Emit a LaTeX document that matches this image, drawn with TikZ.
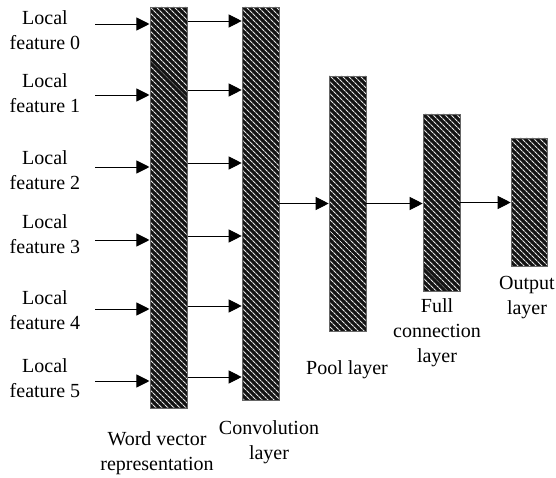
\documentclass[tikz,border=0pt]{standalone}
\usepackage{fontspec}
\setmainfont{Liberation Serif}
\usetikzlibrary{patterns.meta,arrows.meta}

\tikzset{
  layer/.style={draw=black!60, line width=0.6pt, minimum width=37pt, inner sep=0pt,
    preaction={fill=black!92},
    pattern={Lines[angle=-45,distance=4pt,line width=1.05pt]}, pattern color=white!90!black},
  arr/.style={line width=0.9pt, -{Triangle[length=13pt,width=13pt]}},
  lbl/.style={align=center, font=\rmfamily\fontsize{20}{25}\selectfont, inner sep=0pt}
}

\begin{document}
\begin{tikzpicture}[x=1pt,y=-1pt]
	\useasboundingbox (0,0) rectangle (556,478);
	% layers
	\node[layer, minimum height=401pt] (wv) at (168.5,207.5) {};
	\node[layer, minimum height=393pt] (cv) at (260.5,203.5) {};
	\node[layer, minimum height=255pt] (pl) at (347.5,203.5) {};
	\node[layer, minimum height=177pt] (fc) at (441.5,202.5) {};
	\node[layer, minimum height=128pt, minimum width=36pt] (ol) at (529,202) {};
	% local features
	\foreach \i/\ly/\ay in {0/30/24, 1/93/95, 2/170/167, 3/234/240, 4/310/309, 5/378/381}{
		\node[lbl] (lf\i) at (45,\ly) {Local\\feature \i};
		\coordinate (in\i) at (95,\ay);
		\draw[arr] (in\i) -- (wv.west |- in\i);
	}
	% word vectors into convolution
	\foreach \i/\y in {0/21, 1/90, 2/163, 3/236, 4/306, 5/377}{
		\coordinate (h\i) at (187,\y);
		\draw[arr] (wv.east |- h\i) -- (cv.west |- h\i);
	}
	% forward
	\draw[arr] (cv.east |- pl.west) -- (pl.west);
	\draw[arr] (pl.east) -- (fc.west |- pl.east);
	\draw[arr] (fc.east) -- (ol.west |- fc.east);
	% names
	\node[lbl] (wvl) at (157,453.5) {Word vector\\representation};
	\node[lbl] (cvl) at (269,442.5) {Convolution\\layer};
	\node[lbl] (pll) at (347,370) {Pool layer};
	\node[lbl] (fcl) at (437,332.5) {Full\\connection\\layer};
	\node[lbl] (oll) at (527,297.5) {Output\\layer};
\end{tikzpicture}
\end{document}
